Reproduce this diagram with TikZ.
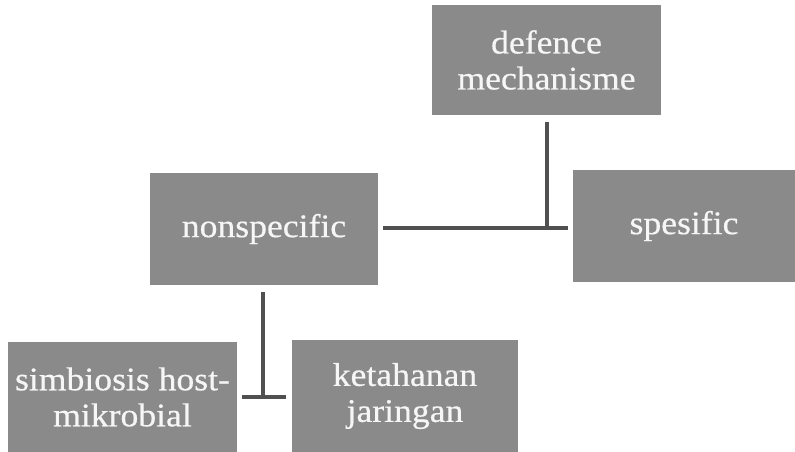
\documentclass[tikz,border=0pt]{standalone}
\usepackage{fontspec}
\setmainfont[FakeStretch=1.08,FakeBold=0.5]{Liberation Serif}
\definecolor{boxgrey}{RGB}{138,138,138}
\definecolor{linegrey}{RGB}{80,80,80}
\definecolor{txt}{RGB}{246,246,246}
\begin{document}
\begin{tikzpicture}[x=1pt,y=-1pt,
  box/.style={rectangle, fill=boxgrey, draw=none, text=txt, align=center,
    font=\fontsize{33}{36}\selectfont, inner sep=0pt},
  conn/.style={draw=linegrey, line width=4pt}]
\useasboundingbox (0,0) rectangle (795,452);
\fill[white] (0,0) rectangle (795,452);
\node[box, minimum width=229pt, minimum height=110pt] (b1) at (546.5,60) {defence\\mechanisme};
\node[box, minimum width=228pt, minimum height=112pt] (b2) at (264,229) {nonspecific};
\node[box, minimum width=222pt, minimum height=112pt] (b3) at (684,226) {spesific};
\node[box, minimum width=229pt, minimum height=110pt] (b4) at (122.5,397) {simbiosis host-\\mikrobial};
\node[box, minimum width=226pt, minimum height=112pt] (b5) at (405,396) {ketahanan\\jaringan};
\coordinate (j1) at (546.5,228);
\coordinate (j2) at (263,397);
\draw[conn, shorten <=7pt] (b1.south) -- (j1);
\draw[conn, shorten <=5pt, shorten >=5pt] (b2.east |- j1) -- (b3.west |- j1);
\draw[conn, shorten <=7pt] (b2.south -| j2) -- (j2);
\draw[conn, shorten <=5pt, shorten >=6pt] (b4.east |- j2) -- (b5.west |- j2);
\end{tikzpicture}
\end{document}
